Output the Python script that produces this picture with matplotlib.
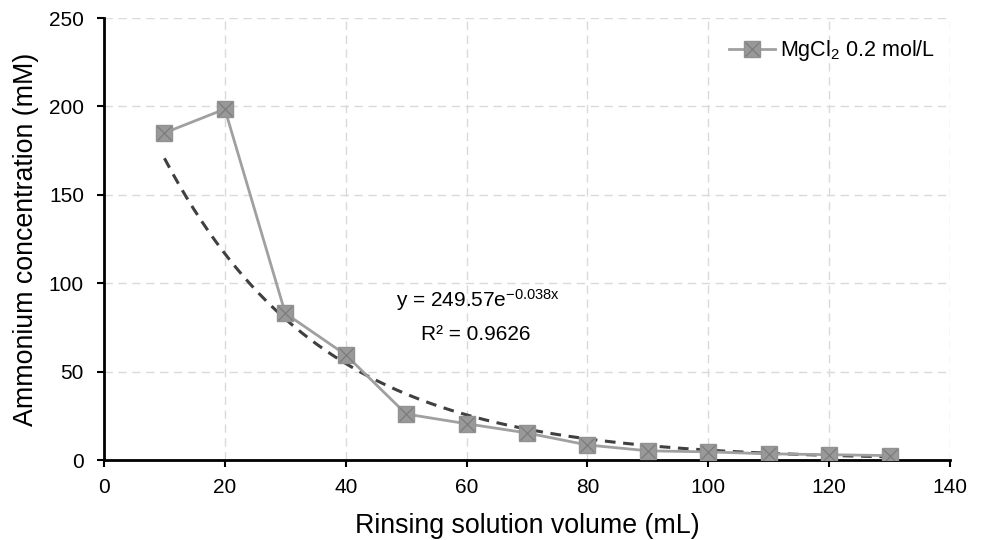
import numpy as np
import matplotlib.pyplot as plt

plt.rcParams['font.family'] = ['Liberation Sans', 'DejaVu Sans']
plt.rcParams['mathtext.fontset'] = 'custom'
plt.rcParams['mathtext.rm'] = 'Liberation Sans'
plt.rcParams['mathtext.it'] = 'Liberation Sans'

# data
volume = [10, 20, 30, 40, 50, 60, 70, 80, 90, 100, 110, 120, 130]
ammonium = [185, 198.5, 83, 59.5, 26, 20.5, 15.3, 8.5, 5.2, 4.6, 3.5, 3.0, 2.5]

# exponential trendline coefficients shown on the chart
fit_a = 249.57
fit_b = -0.038

fig = plt.figure(figsize=(9.82, 5.4), dpi=100)
ax = fig.add_axes([104 / 982, 1 - 460 / 540, 846 / 982, 442 / 540])

xs = np.linspace(10, 130, 200)
ax.plot(xs, fit_a * np.exp(fit_b * xs), ls=(0, (3.5, 2.5)), color='#404040', lw=2.2, zorder=2)

line, = ax.plot(volume, ammonium, color='#a0a0a0', lw=2, marker='s', ms=11,
                mfc='#999999', mec='#929292', mew=1, zorder=3)
cross, = ax.plot(volume, ammonium, ls='none', marker='x', ms=10.5, mec='#7c7c7c',
                 mew=0.9, zorder=4)

ax.set_xlim(0, 140)
ax.set_ylim(0, 250)
ax.set_xticks(range(0, 141, 20))
ax.set_yticks(range(0, 251, 50))
ax.grid(True, ls=(0, (6, 4)), color='#dadada', lw=1)
ax.set_axisbelow(True)

for s in ['top', 'right']:
    ax.spines[s].set_visible(False)
for s in ['left', 'bottom']:
    ax.spines[s].set_linewidth(2)
ax.tick_params(labelsize=15, width=1.5, length=5)
ax.tick_params(axis='x', pad=8)
ax.tick_params(axis='y', pad=9.4)

ax.set_xlabel('Rinsing solution volume (mL)', fontsize=19.3, labelpad=11.5)
ax.set_ylabel('Ammonium concentration (mM)', fontsize=19.3, labelpad=6.8)

ax.text(61.8, 86.5, 'y = 249.57e$^{\\mathregular{-0.038x}}$', ha='center', va='baseline', fontsize=15)
ax.text(61.6, 67.9, 'R² = 0.9626', ha='center', va='baseline', fontsize=15)

ax.legend([(line, cross)], ['MgCl$_{\\mathregular{2}}$ 0.2 mol/L'], loc='upper right', frameon=False,
          fontsize=15.5, handlelength=2.1, handletextpad=0.25, borderaxespad=0,
          bbox_to_anchor=(0.9924, 0.974))

fig.savefig('out.png', dpi=100)
